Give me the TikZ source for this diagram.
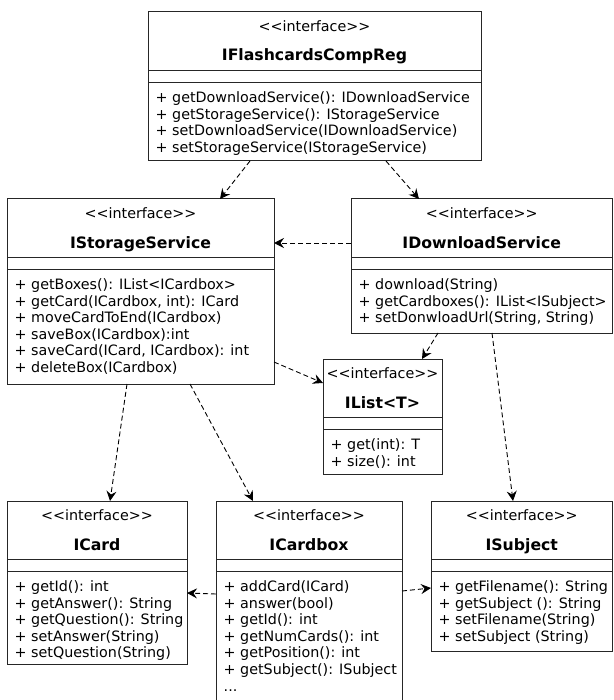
\documentclass[tikz,border=0pt]{standalone}
\usepackage{fontspec}
\setmainfont{DejaVu Sans}[Ligatures=TeXOff]
\usetikzlibrary{arrows.meta}
\newcommand\mydots{...}
\tikzset{
 classbox/.style={draw=black!85, line width=1pt, fill=white, inner sep=0pt, outer sep=0pt, anchor=north west},
 stereo/.style={font=\fontsize{14.3}{16.6}\selectfont, inner sep=0pt, anchor=base},
 ctitle/.style={font=\fontsize{15.7}{18}\selectfont\bfseries, inner sep=0pt, anchor=base},
 meth/.style={font=\fontsize{14.3}{16.6}\selectfont, inner sep=0pt, anchor=base west},
 sepline/.style={draw=black!85, line width=1pt},
 dep/.style={draw=black, line width=0.9pt, dash pattern=on 5pt off 3pt, -{Stealth[length=10pt,width=10pt,inset=3.5pt]}},
}
\newcommand\umlclass[7]{%
  \node[classbox, minimum width={#4-#2}, minimum height={#5-#3}] (#1) at (#2,#3) {};
  \draw[sepline] ([yshift=-58.5pt]#1.north west) -- ([yshift=-58.5pt]#1.north east);
  \draw[sepline] ([yshift=-70.5pt]#1.north west) -- ([yshift=-70.5pt]#1.north east);
  \node[stereo] (#1-st) at ([yshift=-19.5pt]#1.north) {<{}<interface>{}>};
  \node[ctitle] (#1-t) at ([yshift=-49pt]#1.north) {#6};
  \foreach \m [count=\i] in {#7} {
    \pgfmathsetmacro\yy{-90.5-16.6*(\i-1)}
    \node[meth] (#1-m\i) at ([xshift=7.5pt,yshift=\yy pt]#1.north west) {\m};
  }
}
\begin{document}
\begin{tikzpicture}[x=1pt,y=-1pt]
\clip (0,0) rectangle (613,700);
\umlclass{reg}{148}{12}{481}{161}{IFlashcardsCompReg}{{+ getDownloadService(): IDownloadService},{+ getStorageService(): IStorageService},{+ setDownloadService(IDownloadService)},{+ setStorageService(IStorageService)}}
\umlclass{storage}{7}{199}{274}{384}{IStorageService}{{+ getBoxes(): IList<ICardbox>},{+ getCard(ICardbox, int): ICard},{+ moveCardToEnd(ICardbox)},{+ saveBox(ICardbox):int},{+ saveCard(ICard, ICardbox): int},{+ deleteBox(ICardbox)}}
\umlclass{download}{351}{199}{612.5}{333}{IDownloadService}{{+ download(String)},{+ getCardboxes(): IList<ISubject>},{+ setDonwloadUrl(String, String)}}
\umlclass{ilist}{323}{359}{442}{474}{IList<T>}{{+ get(int): T},{+ size(): int}}
\umlclass{card}{7}{501}{187}{664}{ICard}{{+ getId(): int},{+ getAnswer(): String},{+ getQuestion(): String},{+ setAnswer(String)},{+ setQuestion(String)}}
\umlclass{cardbox}{216}{501}{402}{706}{ICardbox}{{+ addCard(ICard)},{+ answer(bool)},{+ getId(): int},{+ getNumCards(): int},{+ getPosition(): int},{+ getSubject(): ISubject},{\mydots}}
\umlclass{subject}{431}{501}{612.5}{651}{ISubject}{{+ getFilename(): String},{+ getSubject (): String},{+ setFilename(String)},{+ setSubject (String)}}
\draw[dep] ([xshift=-64.5pt]reg.south) -- ([xshift=79.5pt]storage.north);
\draw[dep] ([xshift=71.5pt]reg.south) -- ([xshift=-62.75pt]download.north);
\draw[dep] ([yshift=23pt]download.west) -- ([yshift=48.5pt]storage.east);
\draw[dep] ([xshift=-43.75pt]download.south) -- ([xshift=39.5pt]ilist.north);
\draw[dep] ([xshift=10.25pt]download.south) -- ([xshift=-8.75pt]subject.north);
\draw[dep] ([yshift=-70.5pt]storage.east) -- ([yshift=33.5pt]ilist.west);
\draw[dep] ([xshift=-13.5pt]storage.south) -- ([xshift=13pt]card.north);
\draw[dep] ([xshift=49.5pt]storage.south) -- ([xshift=-56pt]cardbox.north);
\draw[dep] ([yshift=9.5pt]cardbox.west) -- ([yshift=-10.5pt]card.east);
\draw[dep] ([yshift=12.5pt]cardbox.east) -- ([yshift=-12pt]subject.west);
\end{tikzpicture}
\end{document}
